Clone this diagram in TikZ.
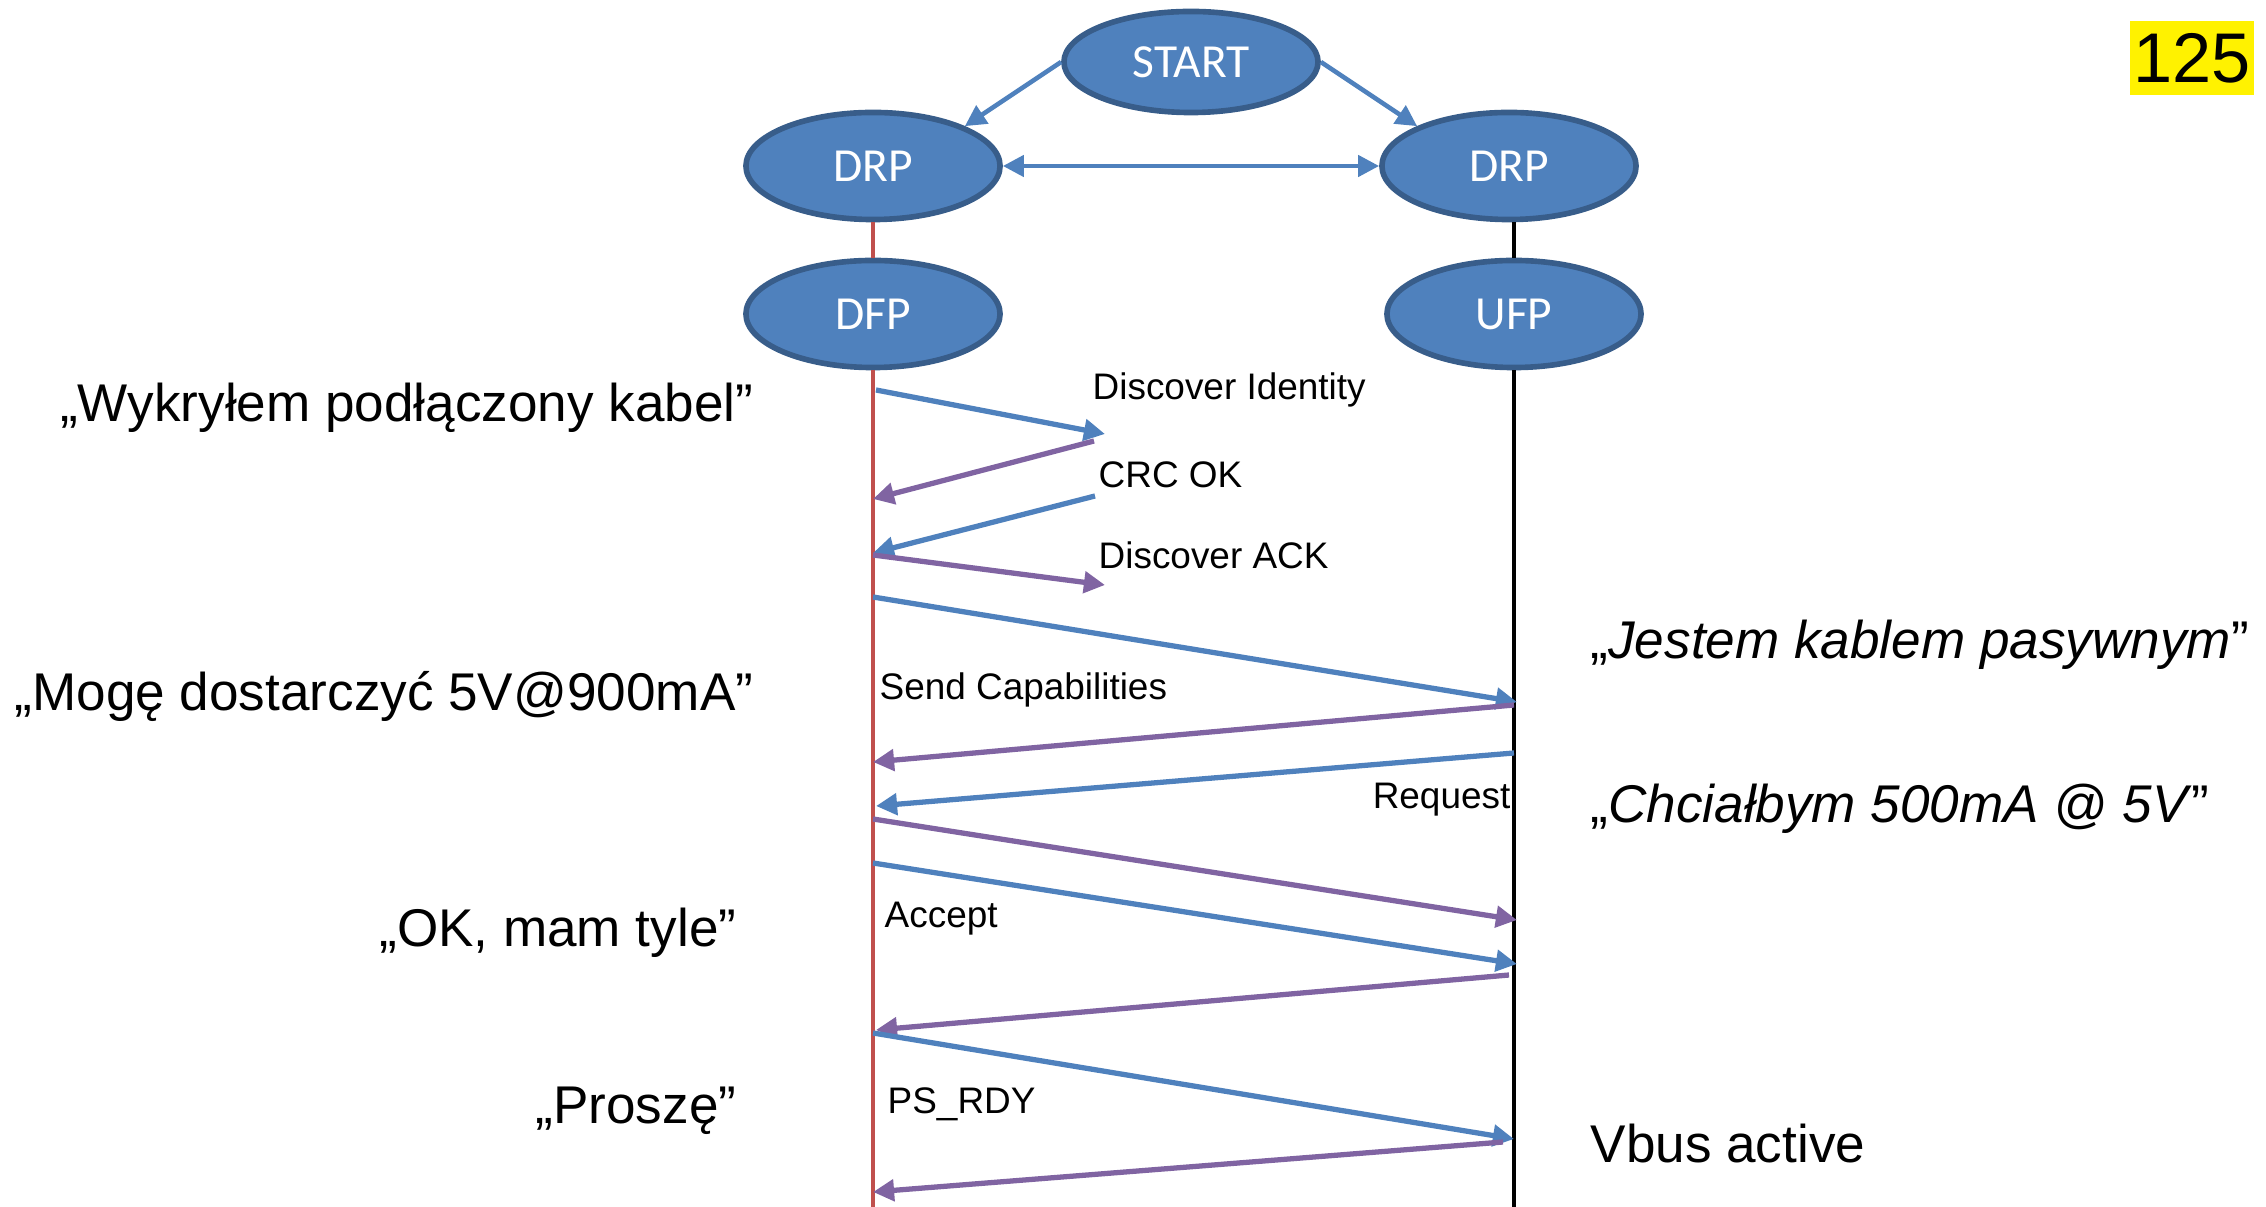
\documentclass[tikz,border=0pt]{standalone}
\usepackage{fontspec}
\setmainfont{Liberation Sans}
\newfontfamily\ovalfont{Carlito}
\usetikzlibrary{arrows.meta,positioning,shapes.geometric}
\definecolor{OvalBlue}{RGB}{79,129,189}
\definecolor{OvalEdge}{RGB}{56,93,138}
\definecolor{MsgBlue}{RGB}{79,129,189}
\definecolor{MsgPurple}{RGB}{128,100,162}
\definecolor{LineRed}{RGB}{192,80,77}

\begin{document}
\begin{tikzpicture}[
          x=0.01cm,y=-0.01cm,
          st/.style={ellipse,draw=OvalEdge,line width=1.6pt,fill=OvalBlue,
                     minimum width=2.54cm,minimum height=1.07cm,inner sep=0pt,
                     font=\ovalfont\fontsize{13.5}{16}\selectfont,text=white},
          say/.style={inner sep=0pt,font=\fontsize{15.1}{18}\selectfont},
          lbl/.style={inner sep=0pt,font=\fontsize{10.5}{13}\selectfont},
          ar/.style={-{Triangle[length=6pt,width=6pt]},line width=1.5pt,MsgBlue},
          rep/.style={ar,MsgPurple}
        ]
          \useasboundingbox (0,0) rectangle (2266,1207);

          % roles
          \node(start)[st,minimum height=1.01cm] at (1191,62){START};
          \node(drpl)[st] at (873,166){DRP};
          \node(drpr)[st] at (1509,166){DRP};
          \node(dfp)[st] at (873,314){DFP};
          \node(ufp)[st] at (1514,314){UFP};

          \draw[ar,line width=1.3pt] (start.west) -- (drpl.north east);
          \draw[ar,line width=1.3pt] (start.east) -- (drpr.north west);
          \draw[ar,line width=1.3pt,{Triangle[length=6pt,width=6pt]}-{Triangle[length=6pt,width=6pt]}] (drpl.east) -- (drpr.west);

          % lifelines
          \coordinate(lfoot) at (873,1207);
          \coordinate(rfoot) at (1514,1207);
          \draw[LineRed,line width=1.4pt] (drpl.south) -- (dfp.north);
          \draw[LineRed,line width=1.4pt] (dfp.south) -- (lfoot);
          \draw[black,line width=1.4pt] (drpr.south -| ufp.north) -- (ufp.north);
          \draw[black,line width=1.4pt] (ufp.south) -- (rfoot);

          % message ends
          \coordinate(a1) at (876,390);  \coordinate(b1) at (1105,434);
          \coordinate(a2) at (1094,441); \coordinate(b2) at (873,499);
          \coordinate(a3) at (1095,496); \coordinate(b3) at (873,553);
          \coordinate(a4) at (873,555);  \coordinate(b4) at (1105,585);
          \coordinate(a5) at (873,597);  \coordinate(b5) at (1517,702);
          \coordinate(a6) at (1514,705); \coordinate(b6) at (873,762);
          \coordinate(a7) at (1514,753); \coordinate(b7) at (876,806);
          \coordinate(a8) at (873,819);  \coordinate(b8) at (1517,920);
          \coordinate(a9) at (873,863);  \coordinate(b9) at (1517,964);
          \coordinate(a10) at (1509,975); \coordinate(b10) at (876,1030);
          \coordinate(a11) at (873,1033); \coordinate(b11) at (1514,1139);
          \coordinate(a12) at (1503,1142); \coordinate(b12) at (873,1192);

          \draw[ar] (a1) -- (b1);
          \draw[rep] (a2) -- (b2);
          \draw[ar] (a3) -- (b3);
          \draw[rep] (a4) -- (b4);
          \draw[ar] (a5) -- (b5);
          \draw[rep] (a6) -- (b6);
          \draw[ar] (a7) -- (b7);
          \draw[rep] (a8) -- (b8);
          \draw[ar] (a9) -- (b9);
          \draw[rep] (a10) -- (b10);
          \draw[ar] (a11) -- (b11);
          \draw[rep] (a12) -- (b12);

          % message names
          \node(t1)[lbl,anchor=west] at (1092,390){Discover Identity};
          \node(t2)[lbl,anchor=west] at (1098,475){CRC OK};
          \node(t3)[lbl,anchor=west] at (1098,555){Discover ACK};
          \node(t4)[lbl,anchor=west] at (879,690){Send Capabilities};
          \node(t5)[lbl,anchor=east] at (1511,800){Request};
          \node(t6)[lbl,anchor=west] at (884,919){Accept};
          \node(t7)[lbl,anchor=west] at (887,1104){PS\_RDY};

          % what each side says
          \node(s1)[say,anchor=east] at (754,408){„Wykryłem podłączony kabel”};
          \node(s2)[say,anchor=east] at (754,696){„Mogę dostarczyć 5V@900mA”};
          \node(s3)[say,anchor=east] at (737,933){„OK, mam tyle”};
          \node(s4)[say,anchor=east] at (737,1111){„Proszę”};
          \node(s5)[say,anchor=west] at (1590,645){„\textit{Jestem kablem pasywnym}”};
          \node(s6)[say,anchor=west] at (1590,809){„\textit{Chciałbym 500mA @ 5V}”};
          \node(s7)[say,anchor=west] at (1590,1144){Vbus active};

          \node(pg)[fill=yellow,inner sep=0pt,minimum width=1.24cm,minimum height=0.73cm,
                    font=\fontsize{20}{24}\selectfont] at (2192,58){125};
        \end{tikzpicture}
\end{document}
